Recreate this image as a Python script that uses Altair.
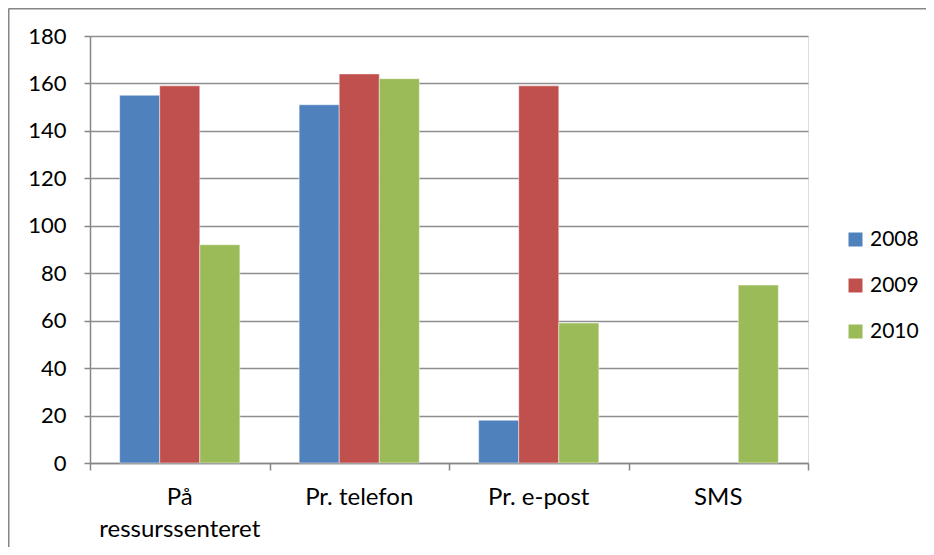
import altair as alt
import pandas as pd

categories = ["På ressurssenteret", "Pr. telefon", "Pr. e-post", "SMS"]
category_labels = ["På\nressurssenteret", "Pr. telefon", "Pr. e-post", "SMS"]
years = ["2008", "2009", "2010"]
v2008 = [155, 151, 18, None]
v2009 = [159, 164, 159, None]
v2010 = [92, 162, 59, 75]
colors = ["#4F81BD", "#C0504D", "#9BBB59"]
y_ticks = list(range(0, 181, 20))

rows = []
for yr, vals in zip(years, [v2008, v2009, v2010]):
    for c, v in zip(categories, vals):
        if v is not None:
            rows.append({"kategori": c, "aar": yr, "antall": v})
df = pd.DataFrame(rows)
lab_df = pd.DataFrame({"kategori": categories, "etikett": category_labels})

FONT = "Lato"
W, H = 718, 427
PL, PT = 82, 28
TOTAL_W, TOTAL_H = 918, 539
GRAY = "#868686"


def x_enc():
    return alt.X("kategori:N", sort=categories, title=None,
                 scale=alt.Scale(paddingInner=0, paddingOuter=0),
                 axis=alt.Axis(labels=False, tickBand="extent", tickSize=7, tickColor=GRAY,
                               domainColor=GRAY, domainWidth=1.5, tickWidth=1.5))


bars = alt.Chart(df).mark_bar(stroke="white", strokeOpacity=0.45, strokeWidth=1).encode(
    x=x_enc(),
    xOffset=alt.XOffset("aar:N", sort=years,
                        scale=alt.Scale(paddingInner=0, paddingOuter=0.74)),
    y=alt.Y("antall:Q", title=None,
            scale=alt.Scale(domain=[0, 180], nice=False),
            axis=alt.Axis(values=y_ticks, tickSize=6, tickColor=GRAY, tickWidth=1.5,
                          domainColor=GRAY, domainWidth=1.5,
                          grid=True, gridColor="#8e8e8e", gridWidth=1.5,
                          labelFont=FONT, labelFontSize=22, labelColor="black",
                          labelPadding=18)),
    color=alt.Color("aar:N", sort=years, title=None,
                    scale=alt.Scale(domain=years, range=colors),
                    legend=alt.Legend(orient="none", legendX=755, legendY=193,
                                      symbolType="square", symbolSize=196,
                                      symbolStrokeWidth=0, labelFont=FONT,
                                      labelFontSize=21, labelColor="black",
                                      labelOffset=4, rowPadding=24)),
)

labels = alt.Chart(lab_df).mark_text(
    lineBreak="\n", font=FONT, fontSize=24, color="black",
    baseline="alphabetic", align="center", lineHeight=32,
).encode(
    x=x_enc(),
    y=alt.value(H + 42),
    text="etikett:N",
)

dummy = pd.DataFrame({"a": [0]})
top_border = alt.Chart(dummy).mark_rule(color=GRAY, strokeWidth=1.5).encode(
    x=alt.value(-PL + 0.5), x2=alt.value(TOTAL_W - PL), y=alt.value(-PT + 0.75))
left_border = alt.Chart(dummy).mark_rule(color=GRAY, strokeWidth=1.5).encode(
    x=alt.value(-PL + 0.75), y=alt.value(-PT + 0.5), y2=alt.value(TOTAL_H - PT))

chart = alt.layer(bars, labels, top_border, left_border).properties(
    width=W, height=H,
    autosize=alt.AutoSizeParams(type="none"),
    padding={"left": PL, "top": PT, "right": TOTAL_W - PL - W, "bottom": TOTAL_H - PT - H},
).configure_view(stroke=None).configure(background="white")

chart.save("out.html", embed_options={"renderer": "svg", "actions": False})
